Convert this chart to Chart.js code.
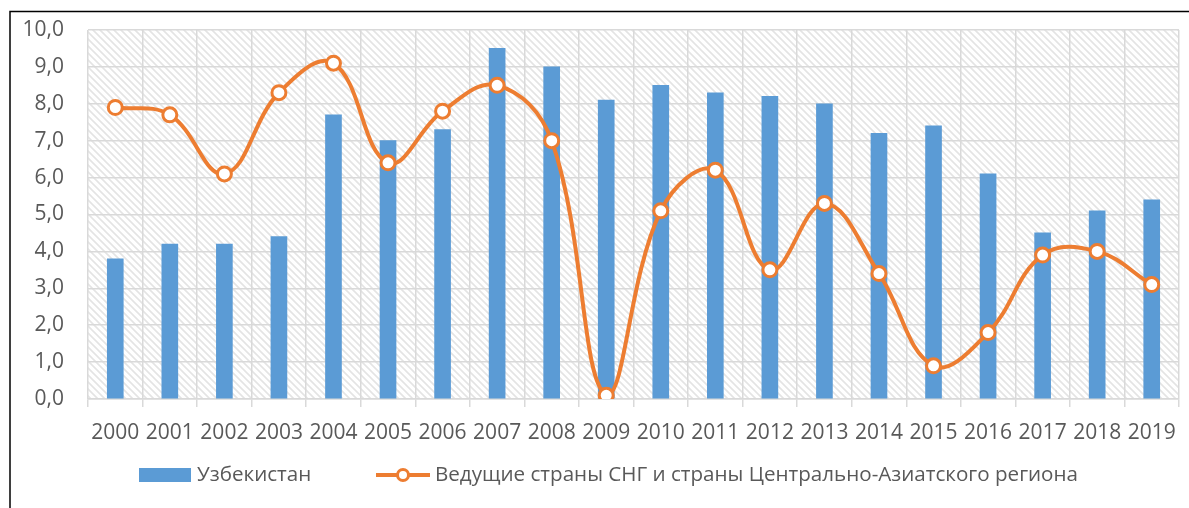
<!DOCTYPE html>
<html>
<head>
<meta charset="utf-8">
<script src="https://cdn.jsdelivr.net/npm/chart.js@4/dist/chart.umd.min.js"></script>
<style>
  html, body { margin: 0; padding: 0; background: #fff; }
  #wrap { width: 1189px; height: 508px; position: relative; }
</style>
</head>
<body>
<div id="wrap"><canvas id="c" width="1189" height="508"></canvas></div>
<script>
const years = ['2000','2001','2002','2003','2004','2005','2006','2007','2008','2009','2010','2011','2012','2013','2014','2015','2016','2017','2018','2019'];
const uzbekistan = [3.8, 4.2, 4.2, 4.4, 7.7, 7.0, 7.3, 9.5, 9.0, 8.1, 8.5, 8.3, 8.2, 8.0, 7.2, 7.4, 6.1, 4.5, 5.1, 5.4];
const cisLeaders = [7.9, 7.7, 6.1, 8.3, 9.1, 6.4, 7.8, 8.5, 7.0, 0.1, 5.1, 6.2, 3.5, 5.3, 3.4, 0.9, 1.8, 3.9, 4.0, 3.1];
const seriesNames = ['Узбекистан', 'Ведущие страны СНГ и страны Центрально-Азиатского региона'];
const yMin = 0, yMax = 10, yStep = 1;

const FONT = '"Open Sans", sans-serif';
const TXT = '#595959';
const BLUE = '#5B9BD5';
const ORANGE = '#ED7D31';
const GRID = '#d9d9d9';

function makeHatch() {
  const n = 7;
  const p = document.createElement('canvas');
  p.width = n; p.height = n;
  const g = p.getContext('2d');
  g.fillStyle = '#ffffff';
  g.fillRect(0, 0, n, n);
  g.strokeStyle = '#e4e4e4';
  g.lineWidth = 1.6;
  g.beginPath();
  g.moveTo(-1, -1); g.lineTo(n + 1, n + 1);
  g.moveTo(-1, n - 1); g.lineTo(1, n + 1);
  g.moveTo(n - 1, -1); g.lineTo(n + 1, 1);
  g.stroke();
  return p;
}

const bgPlugin = {
  id: 'bg',
  beforeDraw(chart) {
    const ctx = chart.ctx, a = chart.chartArea;
    ctx.save();
    ctx.fillStyle = ctx.createPattern(makeHatch(), 'repeat');
    ctx.fillRect(a.left, a.top, a.right - a.left, a.bottom - a.top);
    ctx.restore();
  },
  afterDraw(chart) {
    const ctx = chart.ctx;
    ctx.save();
    ctx.strokeStyle = '#000';
    ctx.lineWidth = 1.5;
    ctx.beginPath();
    ctx.moveTo(10, 508); ctx.lineTo(10, 11.5); ctx.lineTo(1189, 11.5);
    ctx.stroke();
    const ly = 475;
    ctx.font = '20.6px ' + FONT;
    ctx.fillStyle = BLUE;
    ctx.fillRect(139, ly - 7, 52, 14);
    ctx.fillStyle = TXT;
    ctx.textBaseline = 'middle';
    ctx.textAlign = 'left';
    ctx.fillText(seriesNames[0], 197, ly);
    ctx.strokeStyle = ORANGE;
    ctx.lineWidth = 4;
    ctx.beginPath();
    ctx.moveTo(376, ly); ctx.lineTo(430, ly);
    ctx.stroke();
    ctx.beginPath();
    ctx.arc(403, ly, 5.5, 0, Math.PI * 2);
    ctx.fillStyle = '#fff';
    ctx.fill();
    ctx.lineWidth = 3;
    ctx.stroke();
    ctx.fillStyle = TXT;
    ctx.fillText(seriesNames[1], 435, ly);
    ctx.restore();
  }
};

new Chart(document.getElementById('c'), {
  type: 'bar',
  data: {
    labels: years,
    datasets: [
      {
        type: 'line',
        label: seriesNames[1],
        data: cisLeaders,
        borderColor: ORANGE,
        borderWidth: 4,
        tension: 0.4,
        pointRadius: 7,
        pointBorderWidth: 3,
        pointBackgroundColor: '#fff',
        pointBorderColor: ORANGE,
        order: 0
      },
      {
        type: 'bar',
        label: seriesNames[0],
        data: uzbekistan,
        backgroundColor: BLUE,
        barThickness: 16,
        order: 1
      }
    ]
  },
  options: {
    responsive: false,
    animation: false,
    layout: { padding: { top: 30, right: 8, left: 0, bottom: 0 } },
    plugins: { legend: { display: false }, tooltip: { enabled: false } },
    scales: {
      x: {
        grid: { color: GRID, lineWidth: 1.5, offset: true, drawTicks: true, tickLength: 8, tickColor: GRID },
        border: { color: GRID, width: 1.5 },
        ticks: { color: TXT, font: { family: FONT, size: 21 }, padding: 13, maxRotation: 0, autoSkip: false },
        afterFit(s) { s.height = 109; s.paddingLeft = 0; s.paddingRight = 0; }
      },
      y: {
        min: yMin, max: yMax,
        grid: { color: GRID, lineWidth: 1.5, drawTicks: false },
        border: { display: false },
        ticks: {
          stepSize: yStep, color: TXT, font: { family: FONT, size: 21 }, padding: 24,
          callback: v => v.toFixed(1).replace('.', ',')
        },
        afterFit(s) { s.width = 88; s.paddingTop = 0; s.paddingBottom = 0; }
      }
    }
  },
  plugins: [bgPlugin]
});
</script>
</body>
</html>
